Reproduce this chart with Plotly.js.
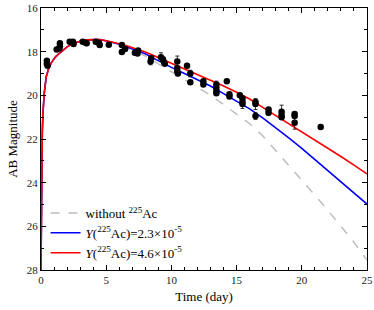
<!DOCTYPE html>
<html>
<head>
<meta charset="utf-8">
<script src="https://cdn.plot.ly/plotly-3.0.1.min.js"></script>
<style>html,body{margin:0;padding:0;background:#fff;}#chart{width:374px;height:310px;}</style>
</head>
<body>
<div id="chart"></div>
<script>
// Model curves
const curveX = [0, 0.05, 0.1, 0.15, 0.25, 0.4, 0.6, 0.8, 1.1, 1.45, 2.0, 2.5, 3.0, 3.5, 4.0, 4.5, 5.0, 5.5, 6.0, 6.5, 7.0, 7.5, 8.0, 8.5, 9.0, 9.5, 10, 11, 12, 13, 14, 15, 16, 17, 18, 19, 20, 21, 22, 23, 24, 25];
const noAc = [28, 23.1, 21.7, 20.8, 19.9, 19.15, 18.75, 18.5, 18.25, 18.05, 17.78, 17.62, 17.52, 17.46, 17.44, 17.46, 17.52, 17.58, 17.68, 17.8, 17.93, 18.06, 18.2, 18.38, 18.57, 18.75, 18.95, 19.3, 19.65, 20.0, 20.42, 20.85, 21.3, 21.85, 22.52, 23.2, 23.88, 24.57, 25.27, 25.98, 26.73, 27.55];
const ac23 = [28, 23.1, 21.7, 20.8, 19.9, 19.15, 18.75, 18.5, 18.25, 18.05, 17.78, 17.62, 17.52, 17.46, 17.44, 17.45, 17.5, 17.57, 17.66, 17.76, 17.87, 17.98, 18.1, 18.26, 18.42, 18.57, 18.72, 19.0, 19.27, 19.57, 19.92, 20.28, 20.62, 21.03, 21.48, 21.95, 22.43, 22.94, 23.45, 23.96, 24.47, 24.98];
const ac46 = [28, 23.1, 21.7, 20.8, 19.9, 19.15, 18.75, 18.5, 18.25, 18.05, 17.78, 17.62, 17.52, 17.46, 17.44, 17.45, 17.5, 17.56, 17.64, 17.72, 17.81, 17.91, 18.02, 18.14, 18.27, 18.39, 18.52, 18.77, 19.03, 19.3, 19.57, 19.86, 20.17, 20.55, 20.92, 21.3, 21.67, 22.03, 22.4, 22.8, 23.2, 23.6];

// Observations
const obsX = [0.45, 0.45, 0.5, 1.2, 1.4, 1.45, 1.45, 2.2, 2.45, 2.5, 3.2, 3.45, 3.5, 4.2, 4.45, 4.5, 5.2, 6.2, 6.2, 6.45, 7.2, 7.4, 7.45, 8.4, 8.45, 9.2, 9.35, 9.45, 9.5, 10.45, 10.45, 10.45, 10.5, 11.2, 11.45, 11.45, 12.45, 12.45, 13.45, 13.45, 13.45, 13.45, 14.25, 14.45, 14.45, 15.25, 15.45, 15.45, 15.45, 16.45, 16.45, 16.45, 17.45, 17.45, 18.45, 18.45, 18.45, 19.45, 19.45, 19.45, 21.45];
const obsY = [18.42, 18.55, 18.65, 17.9, 17.85, 17.75, 17.62, 17.55, 17.55, 17.65, 17.55, 17.6, 17.62, 17.55, 17.6, 17.7, 17.68, 17.7, 18.02, 17.88, 18.05, 18.08, 17.95, 18.45, 18.3, 18.25, 18.35, 18.5, 18.55, 18.45, 18.75, 18.9, 19.0, 18.65, 19.0, 19.4, 19.35, 19.5, 19.5, 19.65, 19.8, 19.9, 19.35, 19.95, 20.05, 20.0, 20.15, 20.3, 20.4, 20.4, 20.3, 20.95, 20.65, 20.8, 20.75, 20.9, 21.0, 20.85, 20.95, 21.25, 21.45];
const obsErr = [0, 0, 0, 0, 0, 0, 0, 0, 0, 0, 0, 0, 0, 0, 0, 0, 0, 0, 0, 0, 0, 0, 0, 0.15, 0, 0.2, 0, 0, 0, 0.25, 0, 0.2, 0, 0, 0.15, 0, 0, 0, 0.15, 0, 0, 0, 0, 0, 0.1, 0, 0, 0, 0.2, 0.25, 0, 0.15, 0, 0.1, 0.3, 0, 0, 0, 0, 0.3, 0];

const labels = ['without <sup>225</sup>Ac', '<i>Y</i>(<sup>225</sup>Ac)=2.3×10<sup>-5</sup>', '<i>Y</i>(<sup>225</sup>Ac)=4.6×10<sup>-5</sup>'];

const serif = '"Liberation Serif", "Times New Roman", serif';

const traces = [
  {x: curveX, y: noAc, mode: 'lines', name: labels[0], line: {color: '#bdbdbd', width: 1.5, dash: 'dash'}},
  {x: curveX, y: ac23, mode: 'lines', name: labels[1], line: {color: '#0000ff', width: 1.6}},
  {x: curveX, y: ac46, mode: 'lines', name: labels[2], line: {color: '#ff0000', width: 1.6}},
  {x: obsX, y: obsY, mode: 'markers', showlegend: false, marker: {color: '#000', size: 6.5},
   error_y: {type: 'data', array: obsErr, visible: true, color: '#000', thickness: 0.8, width: 2}}
];

const axisCommon = {
  showgrid: false, zeroline: false, showline: true, linecolor: '#000', linewidth: 1,
  mirror: 'allticks', ticks: 'inside', ticklen: 5, tickcolor: '#000', tickwidth: 1,
  tickfont: {family: serif, size: 11, color: '#222'}
};

const layout = {
  width: 374, height: 310,
  margin: {l: 41, r: 7, t: 8, b: 40},
  paper_bgcolor: '#fff', plot_bgcolor: '#fff',
  font: {family: serif, color: '#000'},
  showlegend: true,
  legend: {x: 0.014, y: 0.275, xanchor: 'left', yanchor: 'top', bgcolor: 'rgba(0,0,0,0)',
           font: {family: serif, size: 13, color: '#000'}, itemwidth: 30, tracegroupgap: 0},
  xaxis: Object.assign({}, axisCommon, {
    range: [0, 25], dtick: 5, tick0: 0,
    minor: {dtick: 1, ticks: 'inside', ticklen: 3, tickcolor: '#000'},
    title: {text: 'Time (day)', font: {family: serif, size: 13, color: '#000'}, standoff: 6}
  }),
  yaxis: Object.assign({}, axisCommon, {
    range: [28, 16], dtick: 2, tick0: 16,
    minor: {dtick: 1, ticks: 'inside', ticklen: 3, tickcolor: '#000'},
    title: {text: 'AB Magnitude', font: {family: serif, size: 13, color: '#000'}, standoff: 6}
  })
};

Plotly.newPlot('chart', traces, layout, {displayModeBar: false, staticPlot: true});
</script>
</body>
</html>
